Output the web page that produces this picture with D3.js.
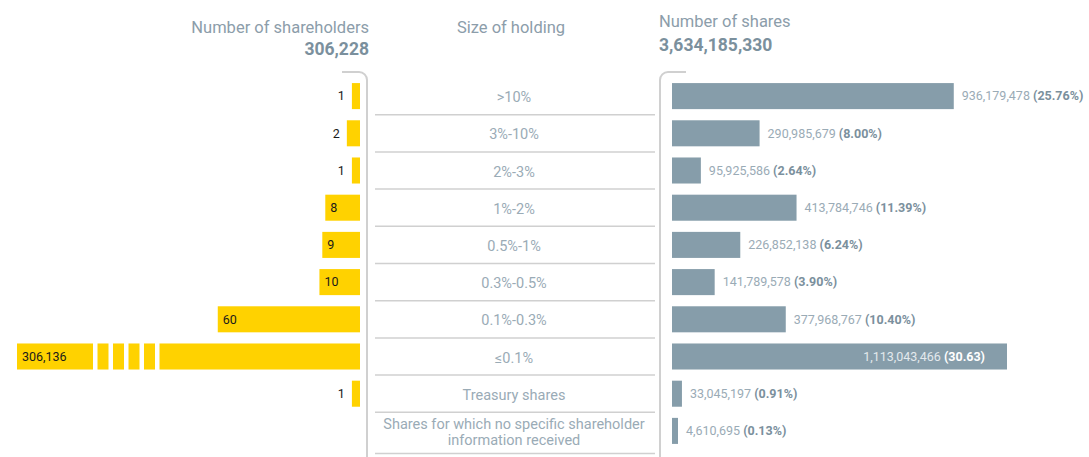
<!DOCTYPE html>
<html>
<head>
<meta charset="utf-8">
<script src="https://cdn.jsdelivr.net/npm/d3@7"></script>
<style>
  body { margin: 0; background: #fff; }
  svg { display: block; font-family: Roboto, "Noto Sans", sans-serif; }
</style>
</head>
<body>
<div id="chart"></div>
<script>
//Data///////////////////////////////////////////////////////////////////////////////////////////

var categories = [">10%", "3%-10%", "2%-3%", "1%-2%", "0.5%-1%", "0.3%-0.5%", "0.1%-0.3%", "≤0.1%",
  "Treasury shares", "Shares for which no specific shareholder information received"];
var holders = [1, 2, 1, 8, 9, 10, 60, 306136, 1, null];
var shares = [936179478, 290985679, 95925586, 413784746, 226852138, 141789578, 377968767, 1113043466, 33045197, 4610695];
var shareLabels = ["25.76%", "8.00%", "2.64%", "11.39%", "6.24%", "3.90%", "10.40%", "30.63", "0.91%", "0.13%"];
var totalHolders = "306,228";
var totalShares = "3,634,185,330";

var rows = categories.map(function(c, i) {
  return { cat: c, holders: holders[i], shares: shares[i], pct: shareLabels[i] };
});

//Setup///////////////////////////////////////////////////////////////////////////////////////////

var W = 1089, H = 457;
var svg = d3.select("#chart").append("svg")
  .attr("width", W)
  .attr("height", H);

var grey = "#8c9daa", greyDark = "#7b909d", greyLight = "#9aabb6", lineCol = "#d0d0d0";

// rows
var y = d3.scaleBand()
  .domain(categories)
  .range([77.5, 449.5])
  .paddingInner(0.3)
  .paddingOuter(0.15);
var step = y.step();

// left bars grow leftwards from x = 360; axis is broken for the big value (clamped)
var leftEdge = 360;
var xLeft = d3.scalePow().exponent(0.7)
  .domain([0, 211])
  .range([0, 343])
  .clamp(true);

// right bars grow from x = 672
var rightStart = 672;
var xRight = d3.scaleLinear()
  .domain([0, d3.max(shares)])
  .range([0, 335]);

//Headers/////////////////////////////////////////////////////////////////////////////////////////

svg.append("text")
  .attr("x", 369).attr("y", 33)
  .attr("text-anchor", "end")
  .style("font-size", "16.5px").style("fill", grey)
  .text("Number of shareholders");
svg.append("text")
  .attr("x", 369).attr("y", 55)
  .attr("text-anchor", "end")
  .style("font-size", "17.5px").style("font-weight", "bold").style("fill", greyDark)
  .text(totalHolders);

svg.append("text")
  .attr("x", 511).attr("y", 33)
  .attr("text-anchor", "middle")
  .style("font-size", "16.5px").style("fill", grey)
  .text("Size of holding");

svg.append("text")
  .attr("x", 659).attr("y", 27)
  .style("font-size", "16.5px").style("fill", grey)
  .text("Number of shares");
svg.append("text")
  .attr("x", 659).attr("y", 51)
  .style("font-size", "17.5px").style("font-weight", "bold").style("fill", greyDark)
  .text(totalShares);

//Frame lines/////////////////////////////////////////////////////////////////////////////////////

svg.append("path")
  .attr("d", "M342,72 H359 A8,8 0 0 1 367,80 V" + H)
  .attr("fill", "none").attr("stroke", lineCol).attr("stroke-width", 2);
svg.append("path")
  .attr("d", "M686,72 H668 A8,8 0 0 0 660,80 V" + H)
  .attr("fill", "none").attr("stroke", lineCol).attr("stroke-width", 2);

// separators under each category
function sepY(d, i) {
  return y(d.cat) + y.bandwidth() / 2 + step / 2 + (i === rows.length - 1 ? 4 : 0);
}
svg.append("g").selectAll("line")
  .data(rows)
  .enter().append("line")
    .attr("x1", 375).attr("x2", 655)
    .attr("y1", sepY)
    .attr("y2", sepY)
    .attr("stroke", lineCol).attr("stroke-width", 1.5);

//Category labels/////////////////////////////////////////////////////////////////////////////////

svg.append("g").selectAll("text")
  .data(rows)
  .enter().append("text")
    .attr("x", 514)
    .attr("y", function(d) { return y(d.cat) + y.bandwidth() / 2 + 1; })
    .attr("text-anchor", "middle")
    .style("font-size", "14.5px").style("fill", greyLight)
    .each(function(d) {
      // wrap long labels over two lines
      var el = d3.select(this), words = d.cat.split(" "), lines = [], cur = [];
      var probe = el.append("tspan");
      words.forEach(function(w) {
        cur.push(w);
        probe.text(cur.join(" "));
        if (probe.node().getComputedTextLength() > 270 && cur.length > 1) {
          cur.pop(); lines.push(cur.join(" ")); cur = [w];
        }
      });
      lines.push(cur.join(" "));
      probe.remove();
      var y0 = +el.attr("y");
      lines.forEach(function(l, k) {
        el.append("tspan")
          .attr("x", 514)
          .attr("y", y0 + (k - (lines.length - 1) / 2) * 16)
          .attr("dy", "0.35em")
          .text(l);
      });
    });

//Left bars (shareholders)////////////////////////////////////////////////////////////////////////

var leftRows = rows.filter(function(d) { return d.holders != null; });

svg.append("g").selectAll("rect")
  .data(leftRows)
  .enter().append("rect")
    .attr("x", function(d) { return leftEdge - xLeft(d.holders); })
    .attr("y", function(d) { return y(d.cat); })
    .attr("width", function(d) { return xLeft(d.holders); })
    .attr("height", y.bandwidth())
    .style("fill", "#ffd200");

// break marks on the clamped bar
leftRows.filter(function(d) { return d.holders > xLeft.domain()[1]; }).forEach(function(d) {
  var start = leftEdge - xLeft(d.holders);
  svg.append("g").selectAll("rect")
    .data(d3.range(5))
    .enter().append("rect")
      .attr("x", function(k) { return start + 76 + k * 15.5; })
      .attr("y", y(d.cat) - 1)
      .attr("width", 4.5)
      .attr("height", y.bandwidth() + 2)
      .style("fill", "#fff");
});

svg.append("g").selectAll("text")
  .data(leftRows)
  .enter().append("text")
    .attr("x", function(d) {
      var w = xLeft(d.holders);
      return w > 25 ? leftEdge - w + 5 : leftEdge - w - 7;
    })
    .attr("y", function(d) { return y(d.cat) + y.bandwidth() / 2; })
    .attr("dy", "0.35em")
    .attr("text-anchor", function(d) { return xLeft(d.holders) > 25 ? "start" : "end"; })
    .style("font-size", "12.5px").style("fill", "#1a1a1a")
    .text(function(d) { return d3.format(",")(d.holders); });

//Right bars (shares)/////////////////////////////////////////////////////////////////////////////

svg.append("g").selectAll("rect")
  .data(rows)
  .enter().append("rect")
    .attr("x", rightStart)
    .attr("y", function(d) { return y(d.cat); })
    .attr("width", function(d) { return Math.max(6, xRight(d.shares)); })
    .attr("height", y.bandwidth())
    .style("fill", "#869daa");

svg.append("g").selectAll("text")
  .data(rows)
  .enter().append("text")
    .attr("y", function(d) { return y(d.cat) + y.bandwidth() / 2; })
    .attr("dy", "0.35em")
    .style("font-size", "12.5px")
    .each(function(d) {
      var w = Math.max(6, xRight(d.shares));
      var inside = w > 300;
      var el = d3.select(this)
        .attr("x", inside ? rightStart + w - 22 : rightStart + w + 8)
        .attr("text-anchor", inside ? "end" : "start");
      el.append("tspan")
        .style("fill", inside ? "#e3e9ed" : greyLight)
        .text(d3.format(",")(d.shares) + " ");
      el.append("tspan")
        .style("fill", inside ? "#fff" : greyDark)
        .style("font-weight", "bold")
        .text("(" + d.pct + ")");
    });
</script>
</body>
</html>
